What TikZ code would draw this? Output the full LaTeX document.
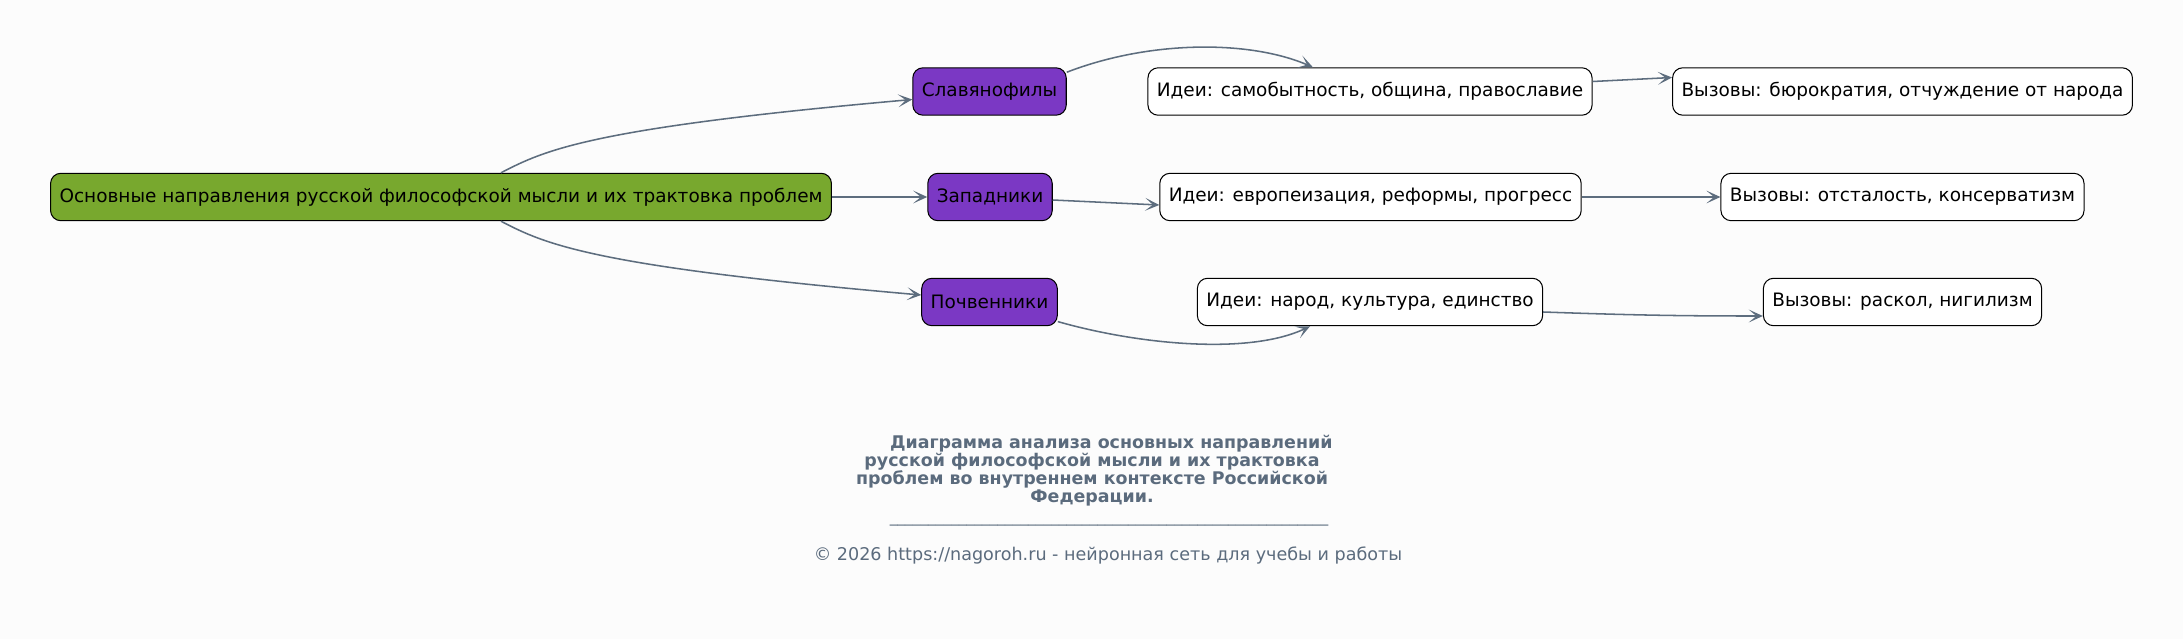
\documentclass[tikz,border=0pt]{standalone}
\usepackage{fontspec}
\setmainfont{DejaVu Sans}
\usepackage{xcolor}
\usepackage{tikz}
\usetikzlibrary{shapes,arrows,positioning,calc,arrows.meta}

\definecolor{edgegray}{HTML}{5D6D7E}
\definecolor{rootgreen}{HTML}{78A82E}
\definecolor{schoolviolet}{HTML}{7B38C4}
\definecolor{bgwhite}{HTML}{FCFCFC}
\definecolor{titlegray}{HTML}{5B6B7D}

\newcommand{\sepline}{\_\_\_\_\_\_\_\_\_\_\_\_\_\_\_\_\_\_\_\_\_\_\_\_\_\_\_\_\_\_\_\_\_\_\_\_\_\_\_\_\_\_\_\_\_\_\_\_\_\_\_\_\_\_\_\_\_}

\tikzset{
    box/.style={draw=black, line width=0.8pt, rounded corners=8pt, minimum height=37pt,
        inner xsep=7pt, font=\fontsize{14.4}{16}\selectfont},
    rootbox/.style={box, fill=rootgreen},
    schoolbox/.style={box, fill=schoolviolet},
    ideabox/.style={box, fill=white},
    link/.style={draw=edgegray, line width=1.2pt, -{Stealth[length=11pt,width=10pt,inset=6pt]}},
    caption/.style={text=titlegray, align=center}
}

\begin{document}
\begin{tikzpicture}[x=0.78pt, y=-0.78pt]
    % canvas
    \fill[bgwhite] (0,0) rectangle (2183,639);
    \useasboundingbox (0,0) rectangle (2183,639);

    % Nodes
    \node[rootbox] (root) at (441,197) {Основные направления русской философской мысли и их трактовка проблем};

    \node[schoolbox] (slav) at (989.5,91.5) {Славянофилы};
    \node[schoolbox] (zap) at (990,197) {Западники};
    \node[schoolbox] (poch) at (989.5,302) {Почвенники};

    \node[ideabox] (idea1) at (1370,91.5) {Идеи: самобытность, община, православие};
    \node[ideabox] (idea2) at (1370.5,197) {Идеи: европеизация, реформы, прогресс};
    \node[ideabox] (idea3) at (1370,302) {Идеи: народ, культура, единство};

    \node[ideabox] (ch1) at (1902.5,91.5) {Вызовы: бюрократия, отчуждение от народа};
    \node[ideabox] (ch2) at (1902.5,197) {Вызовы: отсталость, консерватизм};
    \node[ideabox] (ch3) at (1902.5,302) {Вызовы: раскол, нигилизм};

    % Edges
    \draw[link] (root.22) .. controls (545,150) and (590,128) .. ($(slav.west)+(0,8)$);
    \draw[link] (root) -- (zap);
    \draw[link] (root.-22) .. controls (545,244) and (590,266) .. ($(poch.west)+(0,-7)$);

    \draw[link] (slav.14) .. controls (1150,40) and (1250,40) .. (idea1.157);
    \draw[link] ($(zap.east)+(0,3)$) -- ($(idea2.west)+(0,8)$);
    \draw[link] (poch.-16) .. controls (1140,345) and (1250,355) .. (idea3.-158);

    \draw[link] ($(idea1.east)+(0,-10)$) -- ($(ch1.west)+(0,-14)$);
    \draw[link] (idea2) -- (ch2);
    \draw[link] ($(idea3.east)+(0,10)$) to[out=-2, in=180] ($(ch3.west)+(0,14)$);

    % Caption
    \node[caption, font=\bfseries\fontsize{13.6}{14}\selectfont] (title) at (1092,471)
        {\hspace*{30pt}Диаграмма анализа основных направлений\\
         русской философской мысли и их трактовка\\
         проблем во внутреннем контексте Российской\\
         Федерации.};
    \node[caption, font=\fontsize{12}{14}\selectfont] (rule) at (1109,524) {\sepline};
    \node[caption, font=\fontsize{13.7}{15}\selectfont] (footer) at (1108,555)
        {© 2026 https://nagoroh.ru - нейронная сеть для учебы и работы};
\end{tikzpicture}
\end{document}
